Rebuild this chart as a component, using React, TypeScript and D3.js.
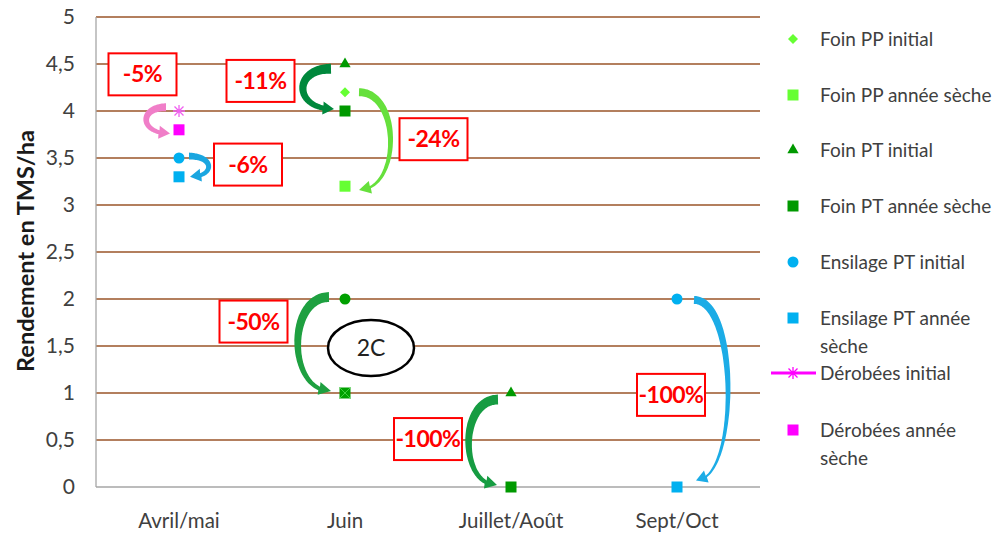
import React from "react";
import * as d3 from "d3";

const categories = ["Avril/mai", "Juin", "Juillet/Août", "Sept/Oct"];
const yTicks = [0, 0.5, 1, 1.5, 2, 2.5, 3, 3.5, 4, 4.5, 5];

const foinPPInitial = [null, 4.2, null, null];
const foinPPSeche = [null, 3.2, null, null];
const foinPTInitial = [null, 4.5, 1, null];
const foinPTSeche = [null, 4.0, 0, null];
const ensilageInitial = [3.5, null, null, 2];
const ensilageSeche = [3.3, null, null, 0];
const deroInitial = [4, null, null, null];
const deroSeche = [3.8, null, null, null];
const deuxCInitial = [null, 2, null, null];
const deuxCSeche = [null, 1, null, null];

type Series = { name: string; values: (number | null)[]; shape: string; color: string; legend: boolean; lines?: string[] };
const series: Series[] = [
  { name: "Foin PP initial", values: foinPPInitial, shape: "diamond", color: "#66ff33", legend: true },
  { name: "Foin PP année sèche", values: foinPPSeche, shape: "square", color: "#66ff33", legend: true },
  { name: "Foin PT initial", values: foinPTInitial, shape: "triangle", color: "#009900", legend: true },
  { name: "Foin PT année sèche", values: foinPTSeche, shape: "square", color: "#009900", legend: true },
  { name: "Ensilage PT initial", values: ensilageInitial, shape: "circle", color: "#00b0f0", legend: true },
  { name: "Ensilage PT année sèche", values: ensilageSeche, shape: "square", color: "#00b0f0", legend: true, lines: ["Ensilage PT année", "sèche"] },
  { name: "Dérobées initial", values: deroInitial, shape: "star", color: "#ff00ff", legend: true },
  { name: "Dérobées année sèche", values: deroSeche, shape: "square", color: "#ff00ff", legend: true, lines: ["Dérobées année", "sèche"] },
  { name: "2C initial", values: deuxCInitial, shape: "circle", color: "#00a000", legend: false },
  { name: "2C année sèche", values: deuxCSeche, shape: "squarex", color: "#00a000", legend: false },
];

// annotations: arrows (category, start value, end value, offsets), labels
const arrows = [
  { cat: 0, v0: 4.04, v1: 3.76, dx0: -13, dx1: -9, bulge: -40, w0: 8, w1: 4, color: "#f07ec8" },
  { cat: 0, v0: 3.52, v1: 3.3, dx0: 10, dx1: 11, bulge: 36, w0: 7, w1: 4, color: "#1aa6e0" },
  { cat: 1, v0: 4.45, v1: 4.02, dx0: -14, dx1: -11, bulge: -52, w0: 10, w1: 5, color: "#00883c" },
  { cat: 1, v0: 4.2, v1: 3.16, dx0: 14, dx1: 14, bulge: 56, w0: 8, w1: 2.5, color: "#66e03c" },
  { cat: 1, v0: 2.02, v1: 1.02, dx0: -16, dx1: -14, bulge: -58, w0: 10, w1: 4, color: "#1ea040" },
  { cat: 2, v0: 0.93, v1: 0.02, dx0: -13, dx1: -14, bulge: -52, w0: 10, w1: 4, color: "#169c42" },
  { cat: 3, v0: 1.99, v1: 0.07, dx0: 17, dx1: 19, bulge: 62, w0: 8, w1: 2, color: "#1cace6" },
];
const labels = [
  { cat: 0, v: 4.39, dx: -36.5, text: "-5%" },
  { cat: 1, v: 4.32, dx: -84.5, text: "-11%" },
  { cat: 1, v: 3.7, dx: 88.5, text: "-24%" },
  { cat: 0, v: 3.43, dx: 69, text: "-6%" },
  { cat: 1, v: 1.76, dx: -91.5, text: "-50%" },
  { cat: 2, v: 0.51, dx: -83, text: "-100%" },
  { cat: 3, v: 0.98, dx: -6, text: "-100%" },
];
const ellipseNote = { cat: 1, v: 1.48, dx: 26, text: "2C" };

const W = 1003, H = 534;
const left = 96, right = 760, top = 17, bottom = 487;

const x = d3.scaleBand().domain(categories).range([left, right]);
const y = d3.scaleLinear().domain([0, 5]).range([bottom, top]);
const cx = (i: number) => (x(categories[i]) as number) + x.bandwidth() / 2;

const FONT = "Lato, 'Open Sans', sans-serif";

function arrowPath(p0: number[], c1: number[], c2: number[], p3: number[], w0: number, w1: number, hw: number, hl: number) {
  const N = 80;
  const pts: number[][] = [];
  for (let i = 0; i <= N; i++) {
    const t = i / N, u = 1 - t;
    pts.push([
      u * u * u * p0[0] + 3 * u * u * t * c1[0] + 3 * u * t * t * c2[0] + t * t * t * p3[0],
      u * u * u * p0[1] + 3 * u * u * t * c1[1] + 3 * u * t * t * c2[1] + t * t * t * p3[1],
    ]);
  }
  const cum = [0];
  for (let i = 1; i <= N; i++) cum.push(cum[i - 1] + Math.hypot(pts[i][0] - pts[i - 1][0], pts[i][1] - pts[i - 1][1]));
  const L = cum[N];
  let k = N;
  while (k > 1 && L - cum[k] < hl) k--;
  const L1 = [], R1 = [];
  for (let i = 0; i <= k; i++) {
    const a = pts[Math.max(0, i - 1)], b = pts[Math.min(N, i + 1)];
    const dx = b[0] - a[0], dy = b[1] - a[1];
    const len = Math.hypot(dx, dy) || 1;
    const nx = -dy / len, ny = dx / len;
    const w = w0 + (w1 - w0) * (cum[i] / cum[k]);
    L1.push([pts[i][0] + nx * w / 2, pts[i][1] + ny * w / 2]);
    R1.push([pts[i][0] - nx * w / 2, pts[i][1] - ny * w / 2]);
  }
  const pk = pts[k];
  const dx = p3[0] - pk[0], dy = p3[1] - pk[1];
  const len = Math.hypot(dx, dy) || 1;
  const nx = -dy / len, ny = dx / len;
  const hL = [pk[0] + nx * hw / 2, pk[1] + ny * hw / 2];
  const hR = [pk[0] - nx * hw / 2, pk[1] - ny * hw / 2];
  const poly = [...L1, hL, p3, hR, ...R1.reverse()];
  return "M" + poly.map((p) => p[0].toFixed(1) + "," + p[1].toFixed(1)).join("L") + "Z";
}

function Marker({ shape, color, px, py, legend }: { shape: string; color: string; px: number; py: number; legend?: boolean }) {
  if (shape === "diamond") {
    const r = 5;
    return <path d={`M${px},${py - r}L${px + r},${py}L${px},${py + r}L${px - r},${py}Z`} fill={color} />;
  }
  if (shape === "triangle") {
    return <path d={d3.symbol(d3.symbolTriangle, 55)() as string} transform={`translate(${px},${py})`} fill={color} />;
  }
  if (shape === "circle") {
    return <circle cx={px} cy={py} r={5.5} fill={color} />;
  }
  if (shape === "square" || shape === "squarex") {
    const s = 11;
    return (
      <g>
        <rect x={px - s / 2} y={py - s / 2} width={s} height={s} fill={color} />
        {shape === "squarex" && (
          <path d={`M${px - s / 2},${py - s / 2}L${px + s / 2},${py + s / 2}M${px + s / 2},${py - s / 2}L${px - s / 2},${py + s / 2}`} stroke="#3fcf3f" strokeWidth={1} />
        )}
      </g>
    );
  }
  if (shape === "star") {
    const r = 6;
    const c = legend ? color : "#f060f0";
    return (
      <path
        d={`M${px - r},${py}L${px + r},${py}M${px},${py - r}L${px},${py + r}M${px - r * 0.75},${py - r * 0.75}L${px + r * 0.75},${py + r * 0.75}M${px + r * 0.75},${py - r * 0.75}L${px - r * 0.75},${py + r * 0.75}`}
        stroke={c}
        strokeWidth={1.3}
        fill="none"
      />
    );
  }
  return null;
}

export default function App() {
  const legendRows = [39, 95, 150, 206, 262, 318, 373, 430];
  return (
    <svg width={W} height={H} style={{ position: "absolute", left: 0, top: 0, background: "#fff" }} fontFamily={FONT}>
      {/* gridlines */}
      {yTicks.filter((t) => t > 0).map((t) => (
        <line key={t} x1={left} x2={right} y1={y(t)} y2={y(t)} stroke="#9a5528" strokeWidth={1.3} />
      ))}
      <line x1={left} x2={right} y1={y(0)} y2={y(0)} stroke="#a6a6a6" strokeWidth={1.3} />
      <line x1={left} x2={left} y1={y(5)} y2={y(0)} stroke="#a6a6a6" strokeWidth={1.3} />
      {/* y tick labels */}
      {yTicks.map((t) => (
        <text key={t} x={75} y={y(t)} dy="0.35em" textAnchor="end" fontSize={21} fill="#404040">
          {String(t).replace(".", ",")}
        </text>
      ))}
      <text transform={`translate(34,251) rotate(-90)`} textAnchor="middle" fontSize={23.5} fontWeight="bold" fill="#1a1a1a">
        Rendement en TMS/ha
      </text>
      {/* x labels */}
      {categories.map((c, i) => (
        <text key={c} x={cx(i)} y={521} dy="0.35em" textAnchor="middle" fontSize={20.5} fill="#404040">
          {c}
        </text>
      ))}
      {/* arrows */}
      {arrows.map((a, i) => {
        const x0 = cx(a.cat) + a.dx0, y0 = y(a.v0);
        const x1 = cx(a.cat) + a.dx1, y1 = y(a.v1);
        const bx = cx(a.cat) + a.bulge;
        return (
          <path key={i} d={arrowPath([x0, y0], [bx, y0], [bx, y1], [x1, y1], a.w0, a.w1, 13, 11)} fill={a.color} />
        );
      })}
      {/* ellipse note */}
      <ellipse cx={cx(ellipseNote.cat) + ellipseNote.dx} cy={y(ellipseNote.v)} rx={43} ry={28} fill="#fff" stroke="#000" strokeWidth={2.5} />
      <text x={cx(ellipseNote.cat) + ellipseNote.dx} y={y(ellipseNote.v)} dy="0.35em" textAnchor="middle" fontSize={23} fill="#222">
        {ellipseNote.text}
      </text>
      {/* points */}
      {series.map((s) =>
        s.values.map((v, i) =>
          v === null ? null : <Marker key={s.name + i} shape={s.shape} color={s.color} px={cx(i)} py={y(v)} />
        )
      )}
      {/* percent labels */}
      {labels.map((l, i) => {
        const px = cx(l.cat) + l.dx, py = y(l.v);
        return (
          <g key={i}>
            <rect x={px - 34} y={py - 21} width={68} height={42} fill="#fff" stroke="#ff0000" strokeWidth={2} />
            <text x={px} y={py} dy="0.35em" textAnchor="middle" fontSize={23} fontWeight="bold" fill="#ff0000" letterSpacing={-0.5}>
              {l.text}
            </text>
          </g>
        );
      })}
      {/* legend */}
      {series.filter((s) => s.legend).map((s, i) => {
        const ly = legendRows[i];
        const lines = s.lines || [s.name];
        return (
          <g key={s.name}>
            {s.shape === "star" && <line x1={771} x2={816} y1={ly} y2={ly} stroke={s.color} strokeWidth={3} />}
            <Marker shape={s.shape} color={s.color} px={793} py={ly} legend />
            {lines.map((t, j) => (
              <text key={j} x={820} y={ly + j * 28} dy="0.35em" fontSize={19} fill="#404040">
                {t}
              </text>
            ))}
          </g>
        );
      })}
    </svg>
  );
}
